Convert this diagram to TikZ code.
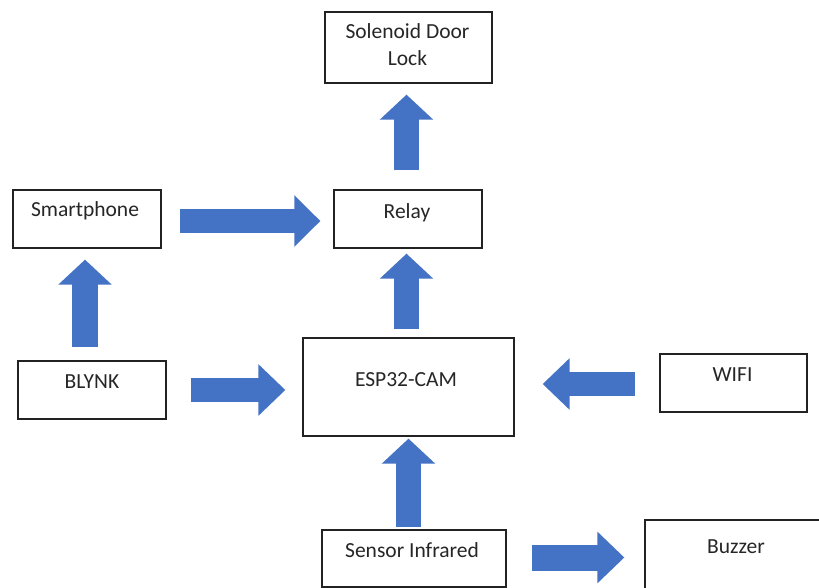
\documentclass[tikz,border=0pt]{standalone}
\usepackage{fontspec}
\setmainfont{Carlito}
\usetikzlibrary{arrows.meta,calc}
\definecolor{arrowblue}{HTML}{4472C4}
\definecolor{boxline}{HTML}{222222}
\newcommand{\placed}[3]{\makebox[0pt]{\hspace*{\dimexpr 2\dimexpr #1pt\relax\relax}\raisebox{#2pt}[0pt][0pt]{#3}}}
\tikzset{
  x=1pt, y=-1pt,
  every node/.style={font=\fontsize{21.5}{26}\selectfont, text=black!85},
  blockbox/.style={draw=boxline, line width=1.3pt, inner sep=0pt, rectangle},
  blockarrow/.style={draw=arrowblue, line width=#1},
  uphead/.style={-{Triangle[length=25pt,width=52pt,fill=arrowblue]}},
  sidehead/.style={-{Triangle[length=#1,width=50pt,fill=arrowblue]}},
}
\begin{document}
\begin{tikzpicture}
\clip (0,0) rectangle (819,588);
\fill[white] (0,0) rectangle (819,588);
\node[blockbox, minimum width=167pt, minimum height=71pt] (lock) at (408.5,47.5)
  {\placed{-1}{-18}{\parbox[b]{200pt}{\centering\baselineskip=26.5pt Solenoid Door\\Lock}}};
\node[blockbox, minimum width=148pt, minimum height=58pt] (relay) at (408,219) {\placed{-1}{1}{Relay}};
\node[blockbox, minimum width=148pt, minimum height=58pt] (phone) at (87,219) {\placed{-2}{3}{Smartphone}};
\node[blockbox, minimum width=148pt, minimum height=58pt] (blynk) at (92,390) {\placed{0}{2}{BLYNK}};
\node[blockbox, minimum width=211pt, minimum height=98pt] (esp) at (408.5,387) {\placed{-2.5}{1}{ESP32-CAM}};
\node[blockbox, minimum width=147pt, minimum height=58pt] (wifi) at (733.5,383) {\placed{-1}{2}{WIFI}};
\node[blockbox, minimum width=184pt, minimum height=57pt] (sensor) at (414,558.5) {\placed{-2}{1.5}{Sensor Infrared}};
\node[blockbox, minimum width=180pt, minimum height=74pt] (buzzer) at (735,557) {\placed{1}{3.5}{Buzzer}};

\draw[blockarrow=25pt, uphead, shorten <=19pt, shorten >=11pt] ($(relay.north)+(-1.5,0)$) -- ($(relay.north |- lock.south)+(-1.5,0)$);
\draw[blockarrow=24pt, sidehead=26pt, shorten <=18pt, shorten >=13pt] ($(phone.east)+(0,2)$) -- ($(relay.west)+(0,2)$);
\draw[blockarrow=25pt, uphead, shorten <=8pt, shorten >=5pt] ($(esp.north)+(-2,0)$) -- ($(esp.north |- relay.south)+(-2,0)$);
\draw[blockarrow=26pt, uphead, shorten <=13pt, shorten >=11pt] ($(blynk.north)+(-7,0)$) -- ($(blynk.north |- phone.south)+(-7,0)$);
\draw[blockarrow=24pt, sidehead=27pt, shorten <=24pt, shorten >=17pt] (blynk.east) -- (blynk.east -| esp.west);
\draw[blockarrow=24pt, sidehead=27pt, shorten <=24pt, shorten >=28pt] ($(wifi.west)+(0,1)$) -- ($(wifi.west -| esp.east)+(0,1)$);
\draw[blockarrow=25pt, uphead, shorten <=2pt, shorten >=2pt] ($(sensor.north)+(-5.5,0)$) -- ($(sensor.north |- esp.south)+(-5.5,0)$);
\draw[blockarrow=26pt, sidehead=27pt, shorten <=25pt, shorten >=20pt] ($(sensor.east)+(0,-1)$) -- ($(sensor.east -| buzzer.west)+(0,-1)$);
\end{tikzpicture}
\end{document}
